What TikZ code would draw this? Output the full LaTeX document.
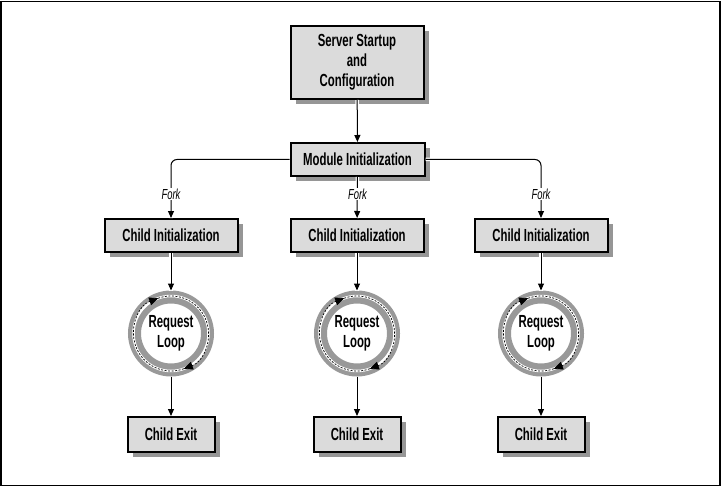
\documentclass[tikz,border=0pt]{standalone}
\usepackage{fontspec}
\setmainfont{Liberation Sans}[FakeStretch=0.65]
\usetikzlibrary{shadows}
\usetikzlibrary{arrows.meta}
\definecolor{boxgray}{gray}{0.86}
\definecolor{ringgray}{gray}{0.6}
\tikzstyle{stage}=[rectangle,draw,line width=2pt,fill=boxgray,align=center,inner sep=0pt,font=\fontsize{17.5}{20}\selectfont\bfseries,drop shadow={shadow xshift=5pt,shadow yshift=-5pt,fill=black!55,opacity=.75}]
\tikzstyle{loopnode}=[circle,draw=ringgray,line width=13pt,minimum size=73pt,inner sep=0pt,align=center,font=\fontsize{17.5}{20}\selectfont\bfseries]
\tikzstyle{flow}=[draw,line width=1pt,->,preaction={draw=white,line width=3.5pt,-}]
\tikzstyle{circulation}=[line width=0.7pt,dash pattern=on 2pt off 1.5pt,-{Triangle[width=8pt,length=9pt]}]
\tikzstyle{forklabel}=[fill=white,inner sep=1pt,font=\fontsize{14.5}{16}\selectfont\itshape]

\begin{document}
\begin{tikzpicture}[x=1pt,y=1pt,>={Triangle[width=6pt,length=7pt]}]
    \useasboundingbox (0,0) rectangle (722,488);
    \draw[line width=1.2pt] (1,2.5) rectangle (720,486.5);

    % Startup and module stages
    \node[stage,minimum width=133pt,minimum height=73pt] (startup) at (357,425.5) {Server Startup\\and\\Configuration};
    \node[stage,minimum width=134pt,minimum height=33pt] (module) at (357.5,328.5) {Module Initialization};

    % One column per child
    \foreach \x/\name in {171/a,357/b,541/c} {
        \node[stage,minimum width=133pt,minimum height=33pt] (init\name) at (\x,252.5) {Child Initialization};
        \node[loopnode] (loop\name) at (\x,154.5) {Request\\Loop};
        \node[stage,minimum width=87pt,minimum height=35pt] (exit\name) at (\x,53.5) {Child Exit};
        \path[flow] (init\name) -- (loop\name);
        \path[flow] (loop\name) -- (exit\name);
        % dashed circulation inside the ring
        \draw[white,line width=2.5pt] (loop\name.center) circle (37.5);
        \draw[circulation] (loop\name.center) ++(290:37.5) arc (290:110:37.5);
        \draw[circulation] (loop\name.center) ++(110:37.5) arc (110:-70:37.5);
    }

    % Connect the stages
    \path[flow] (startup) -- (module);
    \path[flow] (module) -- (initb);
    \path[flow,rounded corners=6pt] (module.west) -| (inita);
    \path[flow,rounded corners=6pt] (module.east) -| (initc);

    \foreach \x/\name in {171/a,357.5/b,541/c}
        \node[forklabel] (fork\name) at (\x,294) {Fork};
\end{tikzpicture}
\end{document}
